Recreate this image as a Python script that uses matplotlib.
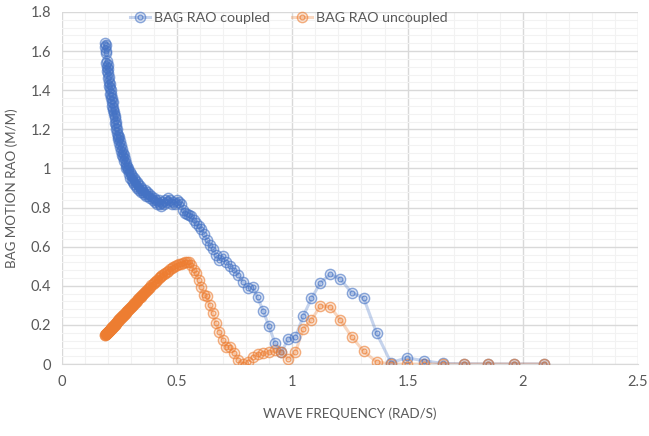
import matplotlib
matplotlib.use("Agg")
import matplotlib.pyplot as plt
from matplotlib.ticker import MultipleLocator
from matplotlib.colors import to_rgba
from matplotlib.lines import Line2D

freq = [
    0.187, 0.188, 0.189, 0.190, 0.192, 0.193, 0.194, 0.195, 0.196, 0.198,
    0.199, 0.200, 0.201, 0.203, 0.204, 0.205, 0.207, 0.208, 0.209, 0.211,
    0.212, 0.214, 0.215, 0.217, 0.218, 0.220, 0.221, 0.223, 0.224, 0.226,
    0.228, 0.229, 0.231, 0.233, 0.234, 0.236, 0.238, 0.240, 0.242, 0.244,
    0.245, 0.247, 0.249, 0.251, 0.253, 0.255, 0.258, 0.260, 0.262, 0.264,
    0.266, 0.269, 0.271, 0.273, 0.276, 0.278, 0.280, 0.283, 0.286, 0.288,
    0.291, 0.294, 0.296, 0.299, 0.302, 0.305, 0.308, 0.311, 0.314, 0.317,
    0.321, 0.324, 0.327, 0.331, 0.334, 0.338, 0.341, 0.345, 0.349, 0.353,
    0.357, 0.361, 0.365, 0.370, 0.374, 0.379, 0.383, 0.388, 0.393, 0.398,
    0.403, 0.408, 0.413, 0.419, 0.425, 0.430, 0.436, 0.442, 0.449, 0.455,
    0.462, 0.469, 0.476, 0.483, 0.491, 0.499, 0.507, 0.515, 0.524, 0.532,
    0.542, 0.551, 0.561, 0.571, 0.582, 0.593, 0.604, 0.616, 0.628, 0.641,
    0.654, 0.668, 0.683, 0.698, 0.714, 0.731, 0.748, 0.766, 0.785, 0.806,
    0.827, 0.849, 0.873, 0.898, 0.924, 0.952, 0.982, 1.013, 1.047, 1.083,
    1.122, 1.164, 1.208, 1.257, 1.309, 1.366, 1.428, 1.496, 1.571, 1.653,
    1.745, 1.848, 1.963, 2.094,
]

rao_coupled = [
    1.64, 1.62, 1.63, 1.59, 1.60, 1.54, 1.52, 1.55, 1.50, 1.53,
    1.49, 1.51, 1.46, 1.47, 1.42, 1.44, 1.41, 1.43, 1.38, 1.40,
    1.36, 1.38, 1.34, 1.36, 1.32, 1.34, 1.30, 1.31, 1.28, 1.29,
    1.26, 1.27, 1.23, 1.24, 1.20, 1.22, 1.18, 1.20, 1.16, 1.17,
    1.15, 1.16, 1.13, 1.14, 1.11, 1.12, 1.09, 1.10, 1.07, 1.08,
    1.06, 1.07, 1.04, 1.05, 1.02, 1.03, 1.00, 1.01, 0.99, 1.00,
    0.97, 0.98, 0.95, 0.97, 0.94, 0.96, 0.93, 0.95, 0.92, 0.94,
    0.91, 0.93, 0.90, 0.92, 0.89, 0.91, 0.88, 0.90, 0.89, 0.88,
    0.87, 0.89, 0.86, 0.88, 0.86, 0.87, 0.85, 0.86, 0.84, 0.85,
    0.83, 0.84, 0.82, 0.84, 0.82, 0.81, 0.83, 0.82, 0.84, 0.83,
    0.85, 0.84, 0.82, 0.83, 0.82, 0.84, 0.83, 0.82, 0.79, 0.77,
    0.765, 0.76, 0.755, 0.735, 0.72, 0.705, 0.69, 0.665, 0.635, 0.61,
    0.59, 0.557, 0.532, 0.552, 0.523, 0.501, 0.48, 0.455, 0.421, 0.39,
    0.395, 0.341, 0.273, 0.194, 0.109, 0.06, 0.128, 0.136, 0.245, 0.336,
    0.416, 0.459, 0.436, 0.365, 0.339, 0.157, 0.007, 0.032, 0.017, 0.003,
    0.002, 0.001, 0.001, 0.001,
]

rao_uncoupled = [
    0.150, 0.151, 0.152, 0.153, 0.155, 0.156, 0.157, 0.158, 0.160, 0.162,
    0.163, 0.165, 0.166, 0.168, 0.170, 0.171, 0.173, 0.175, 0.176, 0.178,
    0.180, 0.182, 0.184, 0.186, 0.188, 0.190, 0.192, 0.194, 0.196, 0.198,
    0.200, 0.202, 0.204, 0.207, 0.209, 0.211, 0.214, 0.216, 0.219, 0.221,
    0.223, 0.226, 0.228, 0.231, 0.233, 0.236, 0.239, 0.242, 0.245, 0.247,
    0.250, 0.253, 0.256, 0.258, 0.262, 0.265, 0.267, 0.271, 0.275, 0.278,
    0.281, 0.285, 0.288, 0.292, 0.295, 0.299, 0.303, 0.307, 0.310, 0.314,
    0.319, 0.323, 0.327, 0.332, 0.336, 0.341, 0.345, 0.350, 0.355, 0.360,
    0.365, 0.370, 0.375, 0.380, 0.385, 0.391, 0.396, 0.402, 0.408, 0.414,
    0.420, 0.425, 0.431, 0.438, 0.444, 0.449, 0.455, 0.461, 0.467, 0.472,
    0.478, 0.484, 0.489, 0.495, 0.500, 0.505, 0.510, 0.514, 0.518, 0.521,
    0.523, 0.520, 0.505, 0.480, 0.463, 0.429, 0.392, 0.353, 0.348, 0.302,
    0.259, 0.208, 0.165, 0.123, 0.089, 0.089, 0.055, 0.020, 0.000, 0.012,
    0.037, 0.051, 0.055, 0.060, 0.070, 0.062, 0.026, 0.060, 0.180, 0.227,
    0.297, 0.293, 0.226, 0.140, 0.066, 0.010, 0.001, 0.000, 0.000, 0.000,
    0.000, 0.000, 0.000, 0.000,
]

series_names = ["BAG RAO coupled", "BAG RAO uncoupled"]
x_ticks = [0, 0.5, 1, 1.5, 2, 2.5]
x_tick_labels = ["0", "0.5", "1", "1.5", "2", "2.5"]
y_ticks = [0, 0.2, 0.4, 0.6, 0.8, 1.0, 1.2, 1.4, 1.6, 1.8]
y_tick_labels = ["0", "0.2", "0.4", "0.6", "0.8", "1", "1.2", "1.4", "1.6", "1.8"]

plt.rcParams['font.family'] = ['Lato', 'DejaVu Sans']
txt = '#595959'

fig = plt.figure(figsize=(6.49, 4.36), dpi=100)
ax = fig.add_axes([0.0955, 0.165, 0.8875, 0.8075])

colors = ['#4472C4', '#ED7D31']
line_kw = dict(alpha=0.3, lw=2.2)

def outer_kw(c):
    return dict(ls='none', marker='o', ms=7.4, mfc=to_rgba(c, 0.18),
                mec=to_rgba(c, 0.6), mew=1.0)

def inner_kw(c):
    return dict(ls='none', marker='o', ms=3.4, mfc='none',
                mec=to_rgba(c, 0.7), mew=0.9)

for ys, c in zip([rao_coupled, rao_uncoupled], colors):
    ax.plot(freq, ys, color=c, zorder=2, solid_capstyle='round', **line_kw)
    ax.plot(freq, ys, zorder=3, **outer_kw(c))
    ax.plot(freq, ys, zorder=4, **inner_kw(c))

handles = []
for c in colors:
    handles.append((Line2D([], [], color=c, **line_kw),
                    Line2D([], [], **outer_kw(c)),
                    Line2D([], [], **inner_kw(c))))
fig.legend(handles, series_names, loc='center', bbox_to_anchor=(0.445, 0.958),
           ncol=2, frameon=False, fontsize=10.3, handlelength=1.4, columnspacing=1.6,
           handletextpad=0.25, labelcolor=txt)

ax.set_xlim(0, 2.5)
ax.set_ylim(0, 1.8)
ax.set_xticks(x_ticks)
ax.set_xticklabels(x_tick_labels)
ax.set_yticks(y_ticks)
ax.set_yticklabels(y_tick_labels)
ax.xaxis.set_minor_locator(MultipleLocator(0.1))
ax.yaxis.set_minor_locator(MultipleLocator(0.04))
ax.grid(which='major', color='#D9D9D9', lw=1.0, zorder=0)
ax.grid(which='minor', color='#F2F2F2', lw=0.8, zorder=0)
ax.set_axisbelow(True)
ax.tick_params(which='both', length=0, labelsize=10.5, colors=txt, pad=8)
for s in ['top', 'right', 'left']:
    ax.spines[s].set_visible(False)
ax.spines['bottom'].set_color('#D9D9D9')

ax.set_xlabel('WAVE FREQUENCY (RAD/S)', fontsize=9.6, color=txt, labelpad=13)
ax.set_ylabel('BAG MOTION RAO (M/M)', fontsize=9.6, color=txt, labelpad=9)

fig.savefig('out.png', dpi=100)
